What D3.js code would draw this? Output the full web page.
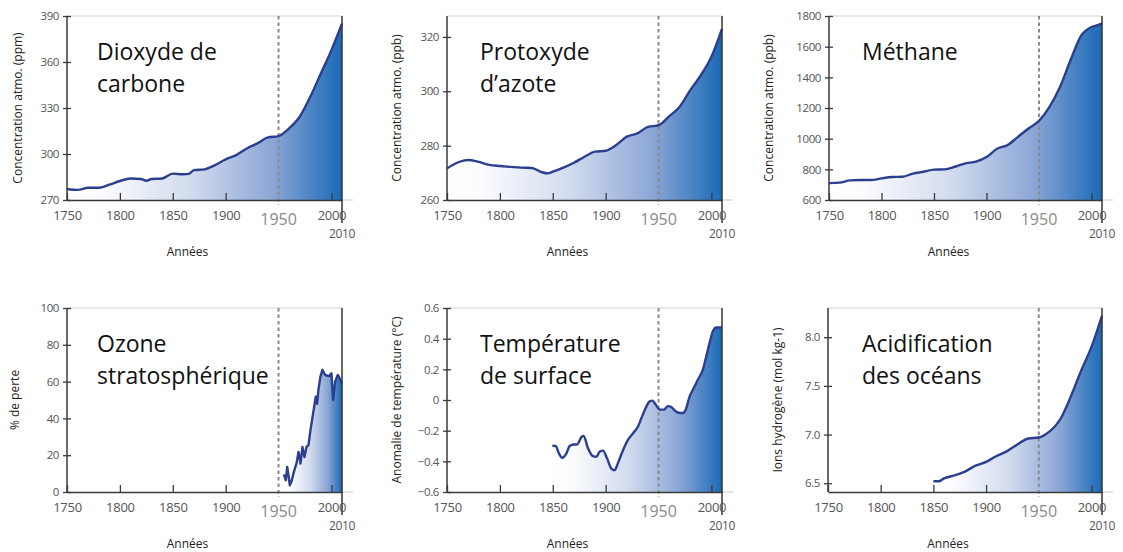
<!DOCTYPE html>
<html>
<head>
<meta charset="utf-8">
<script src="https://cdn.jsdelivr.net/npm/d3@7"></script>
<style>
  body { margin: 0; background: #fff; }
  svg { display: block; font-family: "Open Sans", sans-serif; }
</style>
</head>
<body>
<script>
// Six small panels, all on the same time axis 1750-2010.

var width = 1123,
    height = 552;

// ---- data ----

var co2Years = [1750, 1760, 1770, 1780, 1790, 1800, 1810, 1820, 1825, 1830, 1840, 1850, 1860, 1865, 1870, 1880, 1890, 1900, 1910, 1920, 1930, 1940, 1950, 1960, 1970, 1980, 1990, 2000, 2010];
var co2Values = [277.2, 276.6, 278, 278, 280, 282.4, 284, 283.7, 282.6, 283.7, 284, 287.2, 286.8, 287, 289.5, 290, 292.8, 296.5, 299.3, 303.6, 306.9, 310.8, 311.7, 316.7, 324.3, 337.3, 352.5, 367.7, 385];

var n2oYears = [1750, 1760, 1770, 1780, 1790, 1800, 1810, 1820, 1830, 1840, 1845, 1850, 1860, 1870, 1880, 1890, 1900, 1910, 1920, 1930, 1940, 1950, 1960, 1970, 1980, 1990, 2000, 2010];
var n2oValues = [271.6, 273.8, 274.7, 274, 272.9, 272.5, 272.2, 271.9, 271.8, 270.2, 269.8, 270.4, 271.9, 273.7, 275.9, 277.8, 278.1, 280.2, 283.3, 284.5, 286.9, 287.5, 290.8, 294.3, 300.4, 305.9, 312.7, 323];

var ch4Years = [1750, 1760, 1770, 1780, 1790, 1800, 1810, 1820, 1830, 1840, 1850, 1860, 1870, 1880, 1890, 1900, 1910, 1920, 1930, 1940, 1950, 1960, 1970, 1980, 1990, 2000, 2005, 2010];
var ch4Values = [710, 713, 728, 730, 730, 741, 750, 752, 772, 784, 798, 800, 817, 839, 850, 880, 934, 958, 1012, 1066, 1116, 1207, 1337, 1511, 1670, 1728, 1738, 1752];

var ozoneYears = [1955, 1956.9, 1958.2, 1959.4, 1960.7, 1962.6, 1964.5, 1967, 1968.9, 1970.8, 1972.6, 1974.5, 1976.4, 1978.3, 1980.2, 1982.7, 1985.2, 1986.5, 1987.7, 1989.6, 1991.5, 1994, 1997.8, 2000, 2001.6, 2003.5, 2006, 2007.9, 2010];
var ozoneValues = [9.5, 6.4, 13.6, 9, 3.6, 6.4, 11, 15.5, 21.8, 15.5, 24.5, 19, 24.5, 25.5, 33.6, 42.7, 51.8, 48, 55.5, 62.7, 66.4, 63.6, 63, 64.5, 50, 60, 63.6, 61.8, 59];

var tempYears = [1849.6, 1852.7, 1855.9, 1859, 1862.8, 1866, 1869.8, 1872.9, 1877.3, 1879.2, 1883.3, 1888, 1891.2, 1894.3, 1897.5, 1901.3, 1905.4, 1908.5, 1911.7, 1915.8, 1921.1, 1925.9, 1930.6, 1933.8, 1937.8, 1941.6, 1944.1, 1947.3, 1951.1, 1954.9, 1958.9, 1962.1, 1966.2, 1970, 1973.1, 1975.7, 1979.4, 1982.6, 1987.3, 1992, 1995.2, 1998.3, 2001.5, 2004.6, 2010];
var tempValues = [-0.298, -0.3, -0.35, -0.377, -0.35, -0.3, -0.29, -0.29, -0.24, -0.234, -0.315, -0.366, -0.37, -0.337, -0.33, -0.38, -0.447, -0.458, -0.41, -0.337, -0.26, -0.217, -0.173, -0.118, -0.053, -0.009, -0.004, -0.03, -0.063, -0.063, -0.04, -0.046, -0.074, -0.085, -0.085, -0.063, 0.024, 0.068, 0.134, 0.2, 0.287, 0.374, 0.45, 0.473, 0.473];

var acidYears = [1850, 1855, 1860, 1870, 1880, 1890, 1900, 1910, 1920, 1930, 1940, 1950, 1960, 1965, 1970, 1980, 1990, 2000, 2010];
var acidValues = [6.52, 6.52, 6.55, 6.58, 6.62, 6.68, 6.72, 6.78, 6.83, 6.9, 6.96, 6.97, 7.03, 7.08, 7.15, 7.38, 7.65, 7.9, 8.22];

var xTicks = [1750, 1800, 1850, 1900, 2000];

// ---- panel layout ----

var panels = [
  { years: co2Years, values: co2Values, domain: [270, 390], ticks: [270, 300, 330, 360, 390],
    left: 67, right: 342, top: 16, bottom: 200, labelX: 18,
    ylabel: 'Concentration atmo. (ppm)', title: ['Dioxyde de', 'carbone'], titleX: 97, curve: d3.curveMonotoneX },
  { years: n2oYears, values: n2oValues, domain: [260, 327.7], ticks: [260, 280, 300, 320],
    left: 447, right: 722, top: 16, bottom: 200, labelX: 397,
    ylabel: 'Concentration atmo. (ppb)', title: ['Protoxyde', 'd\u2019azote'], titleX: 480, curve: d3.curveMonotoneX },
  { years: ch4Years, values: ch4Values, domain: [600, 1800], ticks: [600, 800, 1000, 1200, 1400, 1600, 1800],
    left: 829, right: 1102, top: 16, bottom: 200, labelX: 769,
    ylabel: 'Concentration atmo. (ppb)', title: ['M\u00e9thane'], titleX: 862, curve: d3.curveMonotoneX },
  { years: ozoneYears, values: ozoneValues, domain: [0, 100], ticks: [0, 20, 40, 60, 80, 100],
    left: 67, right: 342, top: 308, bottom: 492, labelX: 15,
    ylabel: '% de perte', title: ['Ozone', 'stratosph\u00e9rique'], titleX: 97, curve: d3.curveLinear },
  { years: tempYears, values: tempValues, domain: [-0.6, 0.6], ticks: [-0.6, -0.4, -0.2, 0, 0.2, 0.4, 0.6],
    left: 447, right: 722, top: 308, bottom: 492, labelX: 397,
    ylabel: 'Anomalie de temp\u00e9rature (\u00b0C)', title: ['Temp\u00e9rature', 'de surface'], titleX: 480, curve: d3.curveMonotoneX },
  { years: acidYears, values: acidValues, domain: [6.41, 8.3], ticks: [6.5, 7.0, 7.5, 8.0], fmt: d3.format('.1f'),
    left: 828, right: 1102, top: 308, bottom: 492, labelX: 778,
    ylabel: 'Ions hydrog\u00e8ne (mol kg-1)', title: ['Acidification', 'des oc\u00e9ans'], titleX: 862, curve: d3.curveMonotoneX }
];

var svg = d3.select('body')
  .append('svg')
  .attr('width', width)
  .attr('height', height);

// horizontal white -> blue fill, stretched over each area
var grad = svg.append('defs').append('linearGradient')
  .attr('id', 'blueFill')
  .attr('x1', 0).attr('x2', 1).attr('y1', 0).attr('y2', 0);

[[0, '#ffffff'], [0.12, '#fbfcfe'], [0.45, '#d2dbee'], [0.75, '#8ba6d6'], [1, '#1a6ab6']].forEach(function(s) {
  grad.append('stop').attr('offset', s[0]).attr('stop-color', s[1]);
});

panels.forEach(drawPanel);

function drawPanel(p) {
  var g = svg.append('g');

  var x = d3.scaleLinear().domain([1750, 2010]).range([p.left, p.right]);
  var y = d3.scaleLinear().domain(p.domain).range([p.bottom, p.top]);

  var data = p.years.map(function(yr, k) { return [yr, p.values[k]]; });

  // area under the curve
  g.append('path')
    .datum(data)
    .attr('fill', 'url(#blueFill)')
    .attr('d', d3.area()
      .x(function(d) { return x(d[0]); })
      .y0(p.bottom)
      .y1(function(d) { return y(d[1]); })
      .curve(p.curve));

  // light top frame and bottom overhang
  g.append('line')
    .attr('x1', p.left).attr('x2', p.right)
    .attr('y1', p.top).attr('y2', p.top)
    .attr('stroke', '#d4d4d4').attr('stroke-width', 1.2);
  g.append('line')
    .attr('x1', p.right).attr('x2', p.right + 11)
    .attr('y1', p.bottom).attr('y2', p.bottom)
    .attr('stroke', '#d4d4d4').attr('stroke-width', 1.2);

  // 1950 marker
  g.append('line')
    .attr('x1', x(1950)).attr('x2', x(1950))
    .attr('y1', p.top).attr('y2', p.bottom + 5)
    .attr('stroke', '#8a8a8a').attr('stroke-width', 2)
    .attr('stroke-dasharray', '3.5,3');

  // title (white box behind it hides the marker where they meet)
  var tg = g.append('g');
  var box = tg.append('rect').attr('fill', '#fff');
  var t = tg.append('text')
    .attr('x', p.titleX)
    .attr('y', p.top + 44)
    .attr('font-size', 23)
    .attr('fill', '#111');
  p.title.forEach(function(line, k) {
    t.append('tspan').attr('x', p.titleX).attr('dy', k ? 32 : 0).text(line);
  });
  var bb = t.node().getBBox();
  box.attr('x', bb.x - 4).attr('y', bb.y - 10)
    .attr('width', bb.width + 6).attr('height', bb.height + 22);

  // the data line
  g.append('path')
    .datum(data)
    .attr('fill', 'none')
    .attr('stroke', '#2b3f8f')
    .attr('stroke-width', 2.4)
    .attr('stroke-linejoin', 'round')
    .attr('d', d3.line()
      .x(function(d) { return x(d[0]); })
      .y(function(d) { return y(d[1]); })
      .curve(p.curve));

  // right frame, running down to the 2010 label
  g.append('line')
    .attr('x1', p.right).attr('x2', p.right)
    .attr('y1', p.top).attr('y2', p.bottom + 23)
    .attr('stroke', '#333').attr('stroke-width', 1.5);

  // y axis
  var yAxis = g.append('g')
    .attr('transform', 'translate(' + p.left + ',0)')
    .call(d3.axisLeft(y)
      .tickValues(p.ticks)
      .tickFormat(p.fmt || d3.format(''))
      .tickSize(4)
      .tickSizeOuter(0)
      .tickPadding(4));
  yAxis.select('.domain')
    .attr('d', 'M0,' + p.top + 'V' + p.bottom)
    .attr('stroke', '#3a3a3a').attr('stroke-width', 1.5);
  yAxis.selectAll('.tick line').attr('x1', 4).attr('stroke', '#3a3a3a').attr('stroke-width', 1.3);
  yAxis.selectAll('.tick text')
    .attr('fill', '#555').attr('font-size', 11.5).attr('font-family', '"Open Sans", sans-serif')
    .attr('letter-spacing', -0.4);

  // x axis, ticks pointing up into the plot
  var xAxis = g.append('g')
    .attr('transform', 'translate(0,' + p.bottom + ')')
    .call(d3.axisBottom(x)
      .tickValues(xTicks)
      .tickFormat(d3.format('d'))
      .tickSize(-7)
      .tickSizeOuter(0)
      .tickPadding(11));
  xAxis.select('.domain').attr('stroke', '#3a3a3a').attr('stroke-width', 1.5);
  xAxis.selectAll('.tick line').attr('stroke', '#3a3a3a').attr('stroke-width', 1.3);
  xAxis.selectAll('.tick text')
    .attr('fill', '#555').attr('font-size', 13).attr('font-family', '"Open Sans", sans-serif')
    .attr('letter-spacing', -0.3);

  // 1950 gets its own bigger, paler label; 2010 sits underneath
  g.append('text')
    .attr('x', x(1950)).attr('y', p.bottom + 25)
    .attr('text-anchor', 'middle')
    .attr('font-size', 16).attr('fill', '#8a8a8a')
    .text('1950');
  g.append('text')
    .attr('x', x(2010)).attr('y', p.bottom + 38)
    .attr('text-anchor', 'middle')
    .attr('font-size', 12).attr('fill', '#555')
    .attr('letter-spacing', -0.3)
    .text('2010');

  // axis titles
  g.append('text')
    .attr('x', (p.left + p.right) / 2 - 17)
    .attr('y', p.bottom + 56)
    .attr('text-anchor', 'middle')
    .attr('font-size', 12).attr('fill', '#222')
    .text('Ann\u00e9es');
  g.append('text')
    .attr('transform', 'translate(' + p.labelX + ',' + ((p.top + p.bottom) / 2) + ') rotate(-90)')
    .attr('text-anchor', 'middle')
    .attr('dy', '0.35em')
    .attr('font-size', 12).attr('fill', '#222')
    .text(p.ylabel);
}
</script>
</body>
</html>
